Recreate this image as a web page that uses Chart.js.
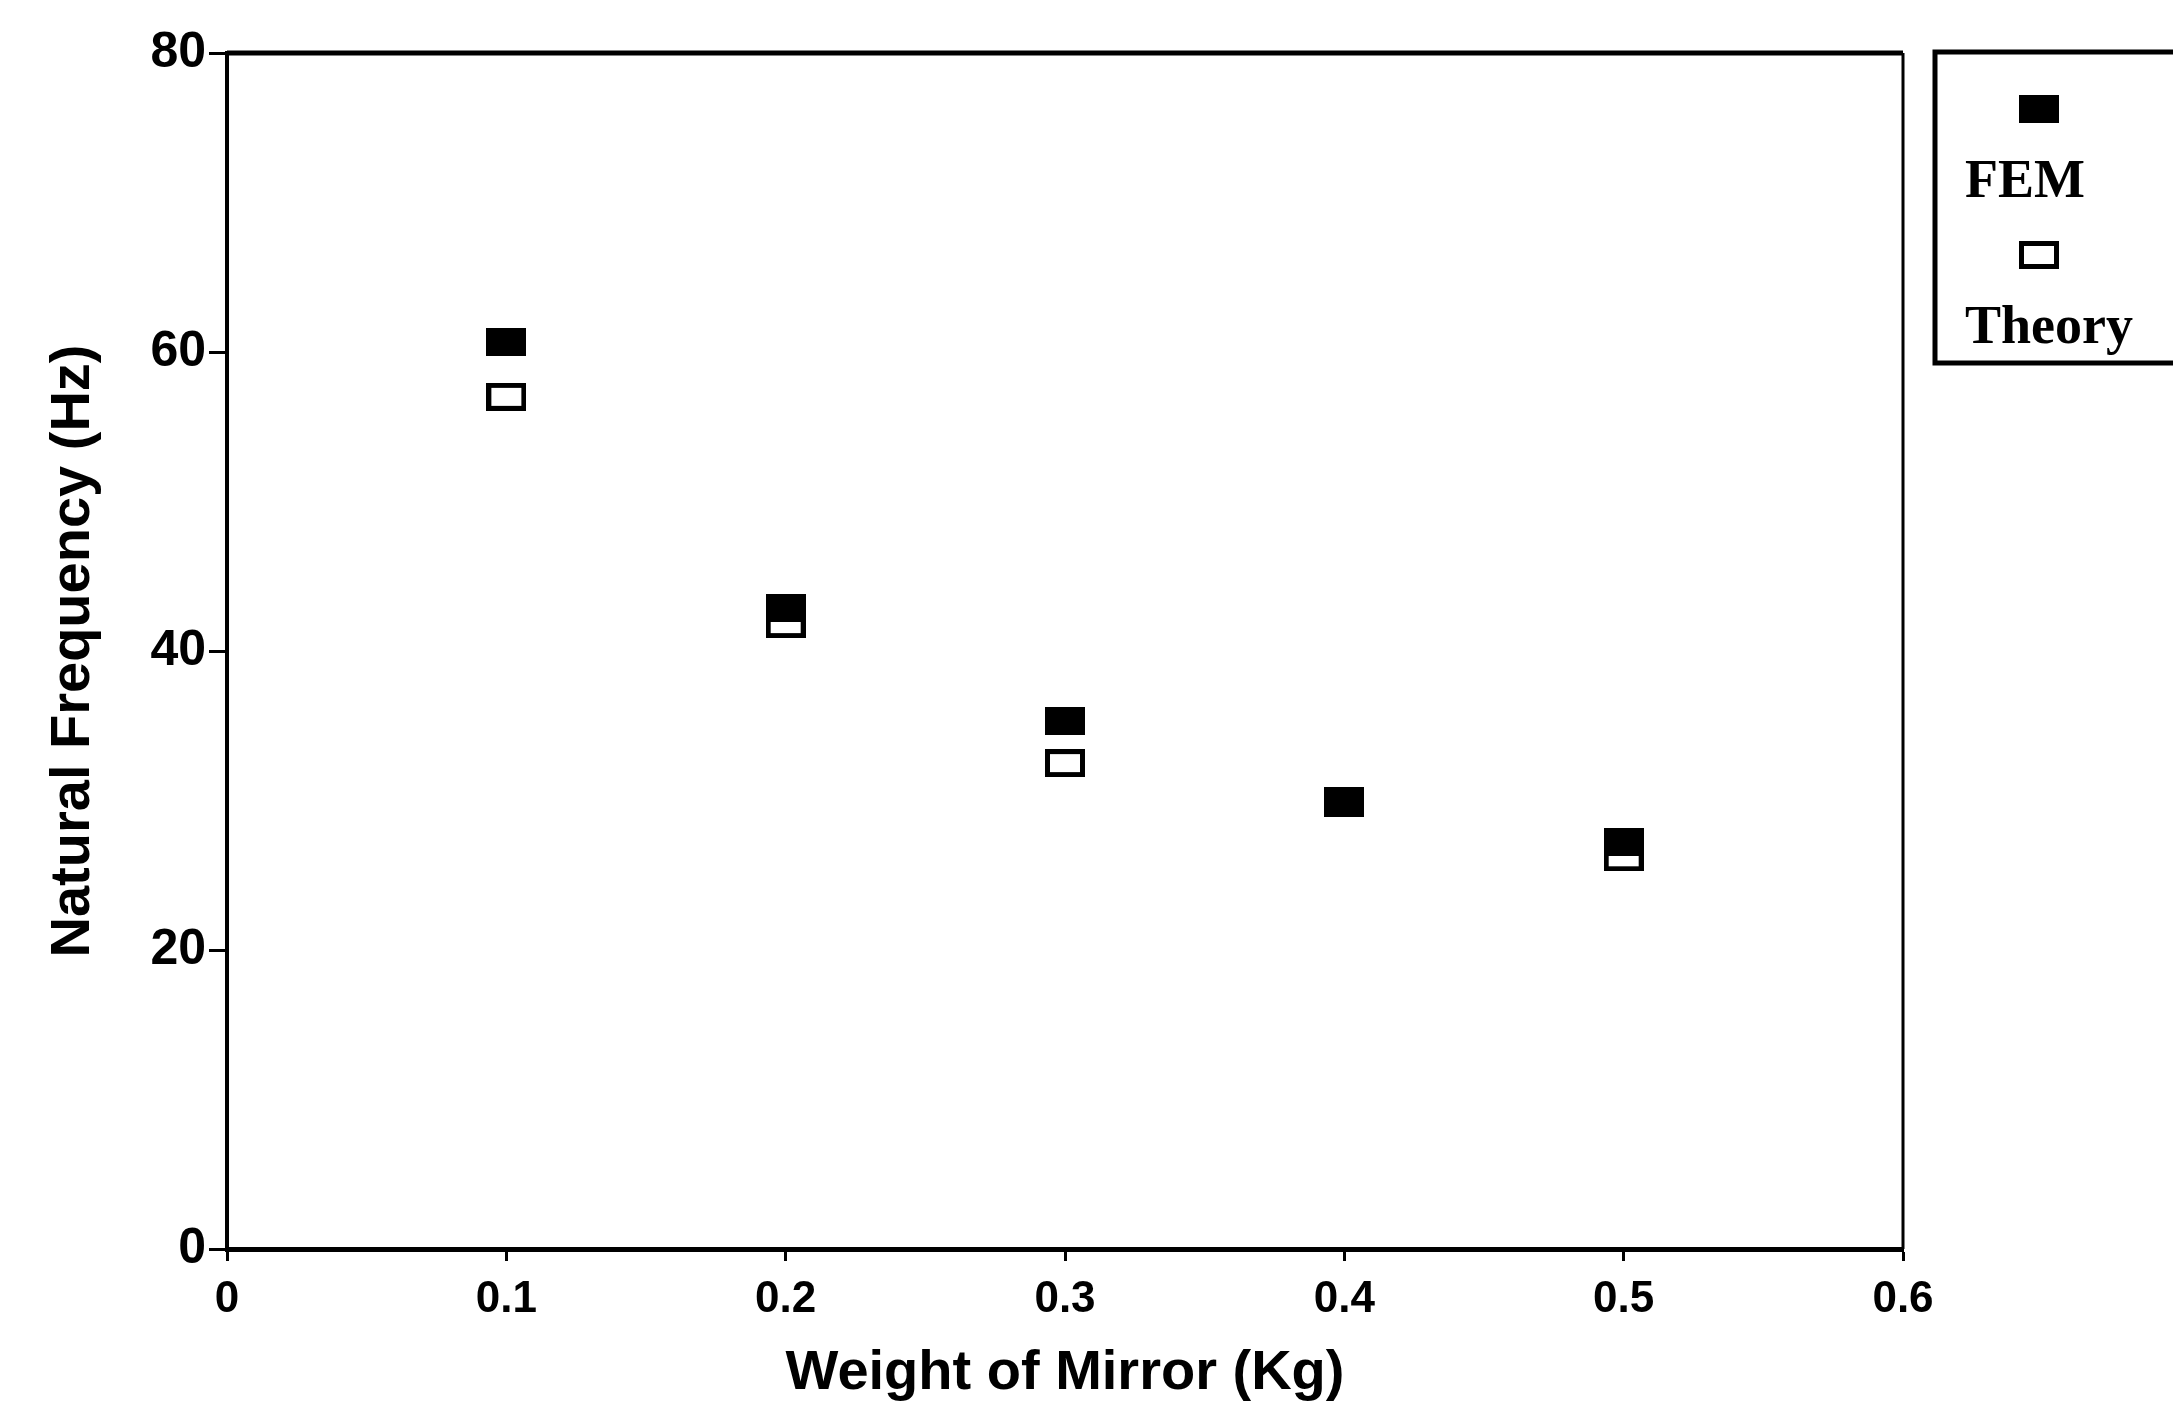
<!DOCTYPE html>
<html>
<head>
<meta charset="utf-8">
<script src="https://cdn.jsdelivr.net/npm/chart.js@4.4.0/dist/chart.umd.min.js"></script>
<style>
  html, body { margin: 0; padding: 0; background: #fff; }
  #wrap { width: 2173px; height: 1411px; }
</style>
</head>
<body>
<div id="wrap"><canvas id="freqChart"></canvas></div>
<script>
// weight of mirror (Kg)
const weights = [0.1, 0.2, 0.3, 0.4, 0.5];
// natural frequency (Hz)
const femFreq = [60.7, 42.9, 35.3, 30.0, 27.2];
const theoryFreq = [57.0, 41.8, 32.5, 29.8, 26.2];
// axis ticks
const xTicks = [0, 0.1, 0.2, 0.3, 0.4, 0.5, 0.6];
const xTickLabels = ['0', '0.1', '0.2', '0.3', '0.4', '0.5', '0.6'];
const yTicks = [0, 20, 40, 60, 80];
const yTickLabels = ['0', '20', '40', '60', '80'];

// rectangular markers, filled and hollow
function marker(filled) {
  var c = document.createElement('canvas');
  c.width = 40;
  c.height = 28;
  var g = c.getContext('2d');
  g.fillStyle = '#000';
  g.fillRect(0, 0, 40, 28);
  if (!filled) {
    g.fillStyle = '#fff';
    g.fillRect(5, 5, 30, 18);
  }
  return c;
}

function toPoints(ys) {
  return weights.map(function(w, i) { return { x: w, y: ys[i] }; });
}

// top and right edges of the plot frame
const frame = {
  id: 'frame',
  beforeDatasetsDraw(chart) {
    var a = chart.chartArea, ctx = chart.ctx;
    ctx.save();
    ctx.strokeStyle = '#000';
    ctx.lineWidth = 5;
    ctx.beginPath();
    ctx.moveTo(a.left, a.top);
    ctx.lineTo(a.right, a.top);
    ctx.stroke();
    ctx.lineWidth = 3;
    ctx.beginPath();
    ctx.moveTo(a.right, a.top);
    ctx.lineTo(a.right, a.bottom);
    ctx.stroke();
    ctx.restore();
  }
};

// legend box on the right: marker above its label
const sideLegend = {
  id: 'sideLegend',
  afterDraw(chart) {
    var ctx = chart.ctx;
    ctx.save();
    ctx.strokeStyle = '#000';
    ctx.lineWidth = 5;
    ctx.strokeRect(1935, 52, 260, 311);
    var rows = [[109, 197], [255, 343]];
    chart.data.datasets.forEach(function(ds, i) {
      ctx.drawImage(ds.pointStyle, 2019, rows[i][0] - 14);
      ctx.fillStyle = '#000';
      ctx.font = 'bold 54px "Liberation Serif"';
      ctx.textBaseline = 'alphabetic';
      ctx.fillText(ds.label, 1965, rows[i][1]);
    });
    ctx.restore();
  }
};

const chart = new Chart(document.getElementById('freqChart'), {
  type: 'scatter',
  data: {
    datasets: [{
      label: 'FEM',
      data: toPoints(femFreq),
      pointStyle: marker(true),
      backgroundColor: '#000',
      borderColor: '#000'
    }, {
      label: 'Theory',
      data: toPoints(theoryFreq),
      pointStyle: marker(false),
      backgroundColor: '#fff',
      borderColor: '#000'
    }]
  },
  options: {
    responsive: true,
    maintainAspectRatio: false,
    animation: false,
    events: [],
    layout: {
      padding: { top: 53, right: 270, left: 0, bottom: 0 }
    },
    plugins: {
      legend: { display: false },
      tooltip: { enabled: false }
    },
    scales: {
      x: {
        type: 'linear',
        min: 0,
        max: 0.6,
        afterFit: function(s) { s.height = 162; },
        afterBuildTicks: function(s) {
          s.ticks = xTicks.map(function(v) { return { value: v }; });
        },
        ticks: {
          color: '#000',
          padding: 12,
          maxRotation: 0,
          font: { family: 'Liberation Sans', size: 44, weight: 'bold' },
          callback: function(v) { return xTickLabels[xTicks.indexOf(v)]; }
        },
        grid: {
          drawOnChartArea: false,
          drawTicks: true,
          tickLength: 12,
          tickWidth: 3,
          tickColor: '#000'
        },
        border: { color: '#000', width: 5 },
        title: {
          display: true,
          text: 'Weight of Mirror (Kg)',
          color: '#000',
          font: { family: 'Liberation Sans', size: 56, weight: 'bold' },
          padding: { top: 20, bottom: 4 }
        }
      },
      y: {
        type: 'linear',
        min: 0,
        max: 80,
        afterFit: function(s) { s.width = 227; },
        afterBuildTicks: function(s) {
          s.ticks = yTicks.map(function(v) { return { value: v }; });
        },
        ticks: {
          color: '#000',
          padding: 3,
          font: { family: 'Liberation Sans', size: 50, weight: 'bold' },
          callback: function(v) { return yTickLabels[yTicks.indexOf(v)]; }
        },
        grid: {
          drawOnChartArea: false,
          drawTicks: true,
          tickLength: 18,
          tickWidth: 3,
          tickColor: '#000'
        },
        border: { color: '#000', width: 4 },
        title: {
          display: true,
          text: 'Natural Frequency (Hz)',
          color: '#000',
          font: { family: 'Liberation Sans', size: 56, weight: 'bold' },
          padding: { top: 40, bottom: 0 }
        }
      }
    }
  },
  plugins: [frame, sideLegend]
});
</script>
</body>
</html>
